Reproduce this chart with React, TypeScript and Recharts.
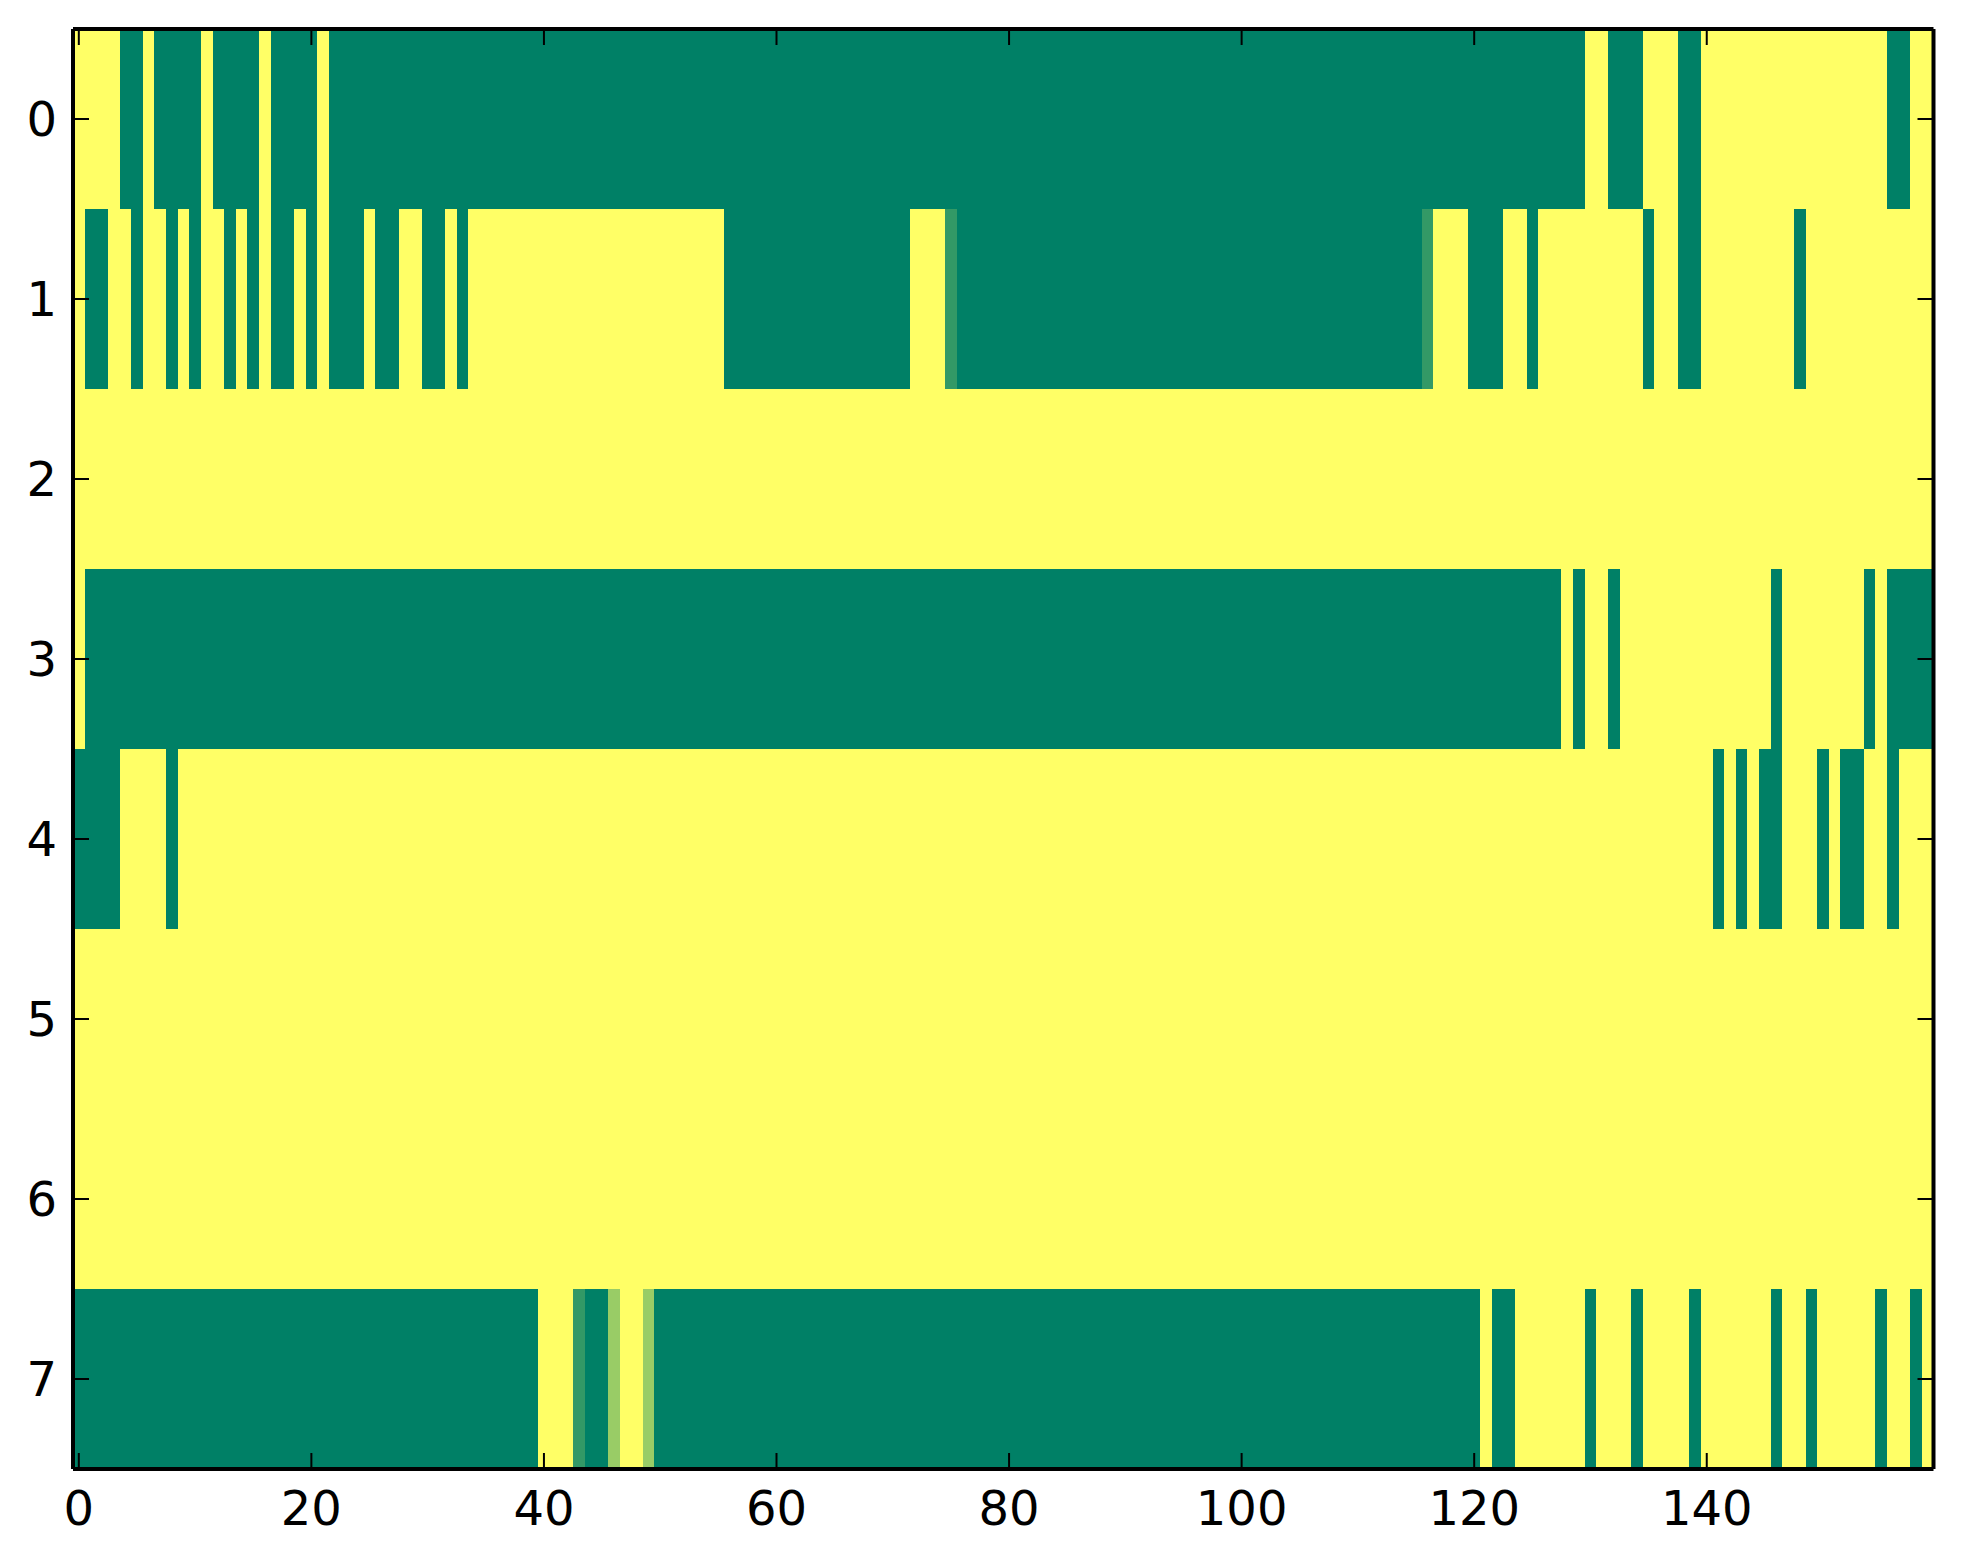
import React from 'react';
import { BarChart, Bar, XAxis, YAxis, Cell } from 'recharts';

// Heatmap values (0 = dark green, 1 = yellow), one array per row, 160 columns each
const ROW_0 = [
  1, 1, 1, 1, 0, 0, 1, 0, 0, 0, 0, 1, 0, 0, 0, 0, 1, 0, 0, 0,
  0, 1, 0, 0, 0, 0, 0, 0, 0, 0, 0, 0, 0, 0, 0, 0, 0, 0, 0, 0,
  0, 0, 0, 0, 0, 0, 0, 0, 0, 0, 0, 0, 0, 0, 0, 0, 0, 0, 0, 0,
  0, 0, 0, 0, 0, 0, 0, 0, 0, 0, 0, 0, 0, 0, 0, 0, 0, 0, 0, 0,
  0, 0, 0, 0, 0, 0, 0, 0, 0, 0, 0, 0, 0, 0, 0, 0, 0, 0, 0, 0,
  0, 0, 0, 0, 0, 0, 0, 0, 0, 0, 0, 0, 0, 0, 0, 0, 0, 0, 0, 0,
  0, 0, 0, 0, 0, 0, 0, 0, 0, 0, 1, 1, 0, 0, 0, 1, 1, 1, 0, 0,
  1, 1, 1, 1, 1, 1, 1, 1, 1, 1, 1, 1, 1, 1, 1, 1, 0, 0, 1, 1,
];
const ROW_1 = [
  1, 0, 0, 1, 1, 0, 1, 1, 0, 1, 0, 1, 1, 0, 1, 0, 1, 0, 0, 1,
  0, 1, 0, 0, 0, 1, 0, 0, 1, 1, 0, 0, 1, 0, 1, 1, 1, 1, 1, 1,
  1, 1, 1, 1, 1, 1, 1, 1, 1, 1, 1, 1, 1, 1, 1, 1, 0, 0, 0, 0,
  0, 0, 0, 0, 0, 0, 0, 0, 0, 0, 0, 0, 1, 1, 1, 0.2, 0, 0, 0, 0,
  0, 0, 0, 0, 0, 0, 0, 0, 0, 0, 0, 0, 0, 0, 0, 0, 0, 0, 0, 0,
  0, 0, 0, 0, 0, 0, 0, 0, 0, 0, 0, 0, 0, 0, 0, 0, 0.2, 1, 1, 1,
  0, 0, 0, 1, 1, 0, 1, 1, 1, 1, 1, 1, 1, 1, 1, 0, 1, 1, 0, 0,
  1, 1, 1, 1, 1, 1, 1, 1, 0, 1, 1, 1, 1, 1, 1, 1, 1, 1, 1, 1,
];
const ROW_2 = [
  1, 1, 1, 1, 1, 1, 1, 1, 1, 1, 1, 1, 1, 1, 1, 1, 1, 1, 1, 1,
  1, 1, 1, 1, 1, 1, 1, 1, 1, 1, 1, 1, 1, 1, 1, 1, 1, 1, 1, 1,
  1, 1, 1, 1, 1, 1, 1, 1, 1, 1, 1, 1, 1, 1, 1, 1, 1, 1, 1, 1,
  1, 1, 1, 1, 1, 1, 1, 1, 1, 1, 1, 1, 1, 1, 1, 1, 1, 1, 1, 1,
  1, 1, 1, 1, 1, 1, 1, 1, 1, 1, 1, 1, 1, 1, 1, 1, 1, 1, 1, 1,
  1, 1, 1, 1, 1, 1, 1, 1, 1, 1, 1, 1, 1, 1, 1, 1, 1, 1, 1, 1,
  1, 1, 1, 1, 1, 1, 1, 1, 1, 1, 1, 1, 1, 1, 1, 1, 1, 1, 1, 1,
  1, 1, 1, 1, 1, 1, 1, 1, 1, 1, 1, 1, 1, 1, 1, 1, 1, 1, 1, 1,
];
const ROW_3 = [
  1, 0, 0, 0, 0, 0, 0, 0, 0, 0, 0, 0, 0, 0, 0, 0, 0, 0, 0, 0,
  0, 0, 0, 0, 0, 0, 0, 0, 0, 0, 0, 0, 0, 0, 0, 0, 0, 0, 0, 0,
  0, 0, 0, 0, 0, 0, 0, 0, 0, 0, 0, 0, 0, 0, 0, 0, 0, 0, 0, 0,
  0, 0, 0, 0, 0, 0, 0, 0, 0, 0, 0, 0, 0, 0, 0, 0, 0, 0, 0, 0,
  0, 0, 0, 0, 0, 0, 0, 0, 0, 0, 0, 0, 0, 0, 0, 0, 0, 0, 0, 0,
  0, 0, 0, 0, 0, 0, 0, 0, 0, 0, 0, 0, 0, 0, 0, 0, 0, 0, 0, 0,
  0, 0, 0, 0, 0, 0, 0, 0, 1, 0, 1, 1, 0, 1, 1, 1, 1, 1, 1, 1,
  1, 1, 1, 1, 1, 1, 0, 1, 1, 1, 1, 1, 1, 1, 0, 1, 0, 0, 0, 0,
];
const ROW_4 = [
  0, 0, 0, 0, 1, 1, 1, 1, 0, 1, 1, 1, 1, 1, 1, 1, 1, 1, 1, 1,
  1, 1, 1, 1, 1, 1, 1, 1, 1, 1, 1, 1, 1, 1, 1, 1, 1, 1, 1, 1,
  1, 1, 1, 1, 1, 1, 1, 1, 1, 1, 1, 1, 1, 1, 1, 1, 1, 1, 1, 1,
  1, 1, 1, 1, 1, 1, 1, 1, 1, 1, 1, 1, 1, 1, 1, 1, 1, 1, 1, 1,
  1, 1, 1, 1, 1, 1, 1, 1, 1, 1, 1, 1, 1, 1, 1, 1, 1, 1, 1, 1,
  1, 1, 1, 1, 1, 1, 1, 1, 1, 1, 1, 1, 1, 1, 1, 1, 1, 1, 1, 1,
  1, 1, 1, 1, 1, 1, 1, 1, 1, 1, 1, 1, 1, 1, 1, 1, 1, 1, 1, 1,
  1, 0, 1, 0, 1, 0, 0, 1, 1, 1, 0, 1, 0, 0, 1, 1, 0, 1, 1, 1,
];
const ROW_5 = [
  1, 1, 1, 1, 1, 1, 1, 1, 1, 1, 1, 1, 1, 1, 1, 1, 1, 1, 1, 1,
  1, 1, 1, 1, 1, 1, 1, 1, 1, 1, 1, 1, 1, 1, 1, 1, 1, 1, 1, 1,
  1, 1, 1, 1, 1, 1, 1, 1, 1, 1, 1, 1, 1, 1, 1, 1, 1, 1, 1, 1,
  1, 1, 1, 1, 1, 1, 1, 1, 1, 1, 1, 1, 1, 1, 1, 1, 1, 1, 1, 1,
  1, 1, 1, 1, 1, 1, 1, 1, 1, 1, 1, 1, 1, 1, 1, 1, 1, 1, 1, 1,
  1, 1, 1, 1, 1, 1, 1, 1, 1, 1, 1, 1, 1, 1, 1, 1, 1, 1, 1, 1,
  1, 1, 1, 1, 1, 1, 1, 1, 1, 1, 1, 1, 1, 1, 1, 1, 1, 1, 1, 1,
  1, 1, 1, 1, 1, 1, 1, 1, 1, 1, 1, 1, 1, 1, 1, 1, 1, 1, 1, 1,
];
const ROW_6 = [
  1, 1, 1, 1, 1, 1, 1, 1, 1, 1, 1, 1, 1, 1, 1, 1, 1, 1, 1, 1,
  1, 1, 1, 1, 1, 1, 1, 1, 1, 1, 1, 1, 1, 1, 1, 1, 1, 1, 1, 1,
  1, 1, 1, 1, 1, 1, 1, 1, 1, 1, 1, 1, 1, 1, 1, 1, 1, 1, 1, 1,
  1, 1, 1, 1, 1, 1, 1, 1, 1, 1, 1, 1, 1, 1, 1, 1, 1, 1, 1, 1,
  1, 1, 1, 1, 1, 1, 1, 1, 1, 1, 1, 1, 1, 1, 1, 1, 1, 1, 1, 1,
  1, 1, 1, 1, 1, 1, 1, 1, 1, 1, 1, 1, 1, 1, 1, 1, 1, 1, 1, 1,
  1, 1, 1, 1, 1, 1, 1, 1, 1, 1, 1, 1, 1, 1, 1, 1, 1, 1, 1, 1,
  1, 1, 1, 1, 1, 1, 1, 1, 1, 1, 1, 1, 1, 1, 1, 1, 1, 1, 1, 1,
];
const ROW_7 = [
  0, 0, 0, 0, 0, 0, 0, 0, 0, 0, 0, 0, 0, 0, 0, 0, 0, 0, 0, 0,
  0, 0, 0, 0, 0, 0, 0, 0, 0, 0, 0, 0, 0, 0, 0, 0, 0, 0, 0, 0,
  1, 1, 1, 0.2, 0, 0, 0.6, 1, 1, 0.6, 0, 0, 0, 0, 0, 0, 0, 0, 0, 0,
  0, 0, 0, 0, 0, 0, 0, 0, 0, 0, 0, 0, 0, 0, 0, 0, 0, 0, 0, 0,
  0, 0, 0, 0, 0, 0, 0, 0, 0, 0, 0, 0, 0, 0, 0, 0, 0, 0, 0, 0,
  0, 0, 0, 0, 0, 0, 0, 0, 0, 0, 0, 0, 0, 0, 0, 0, 0, 0, 0, 0,
  0, 1, 0, 0, 1, 1, 1, 1, 1, 1, 0, 1, 1, 1, 0, 1, 1, 1, 1, 0,
  1, 1, 1, 1, 1, 1, 0, 1, 1, 0, 1, 1, 1, 1, 1, 0, 1, 1, 0, 1,
];

const ROWS = [ROW_0, ROW_1, ROW_2, ROW_3, ROW_4, ROW_5, ROW_6, ROW_7];
const X_TICKS = [0, 20, 40, 60, 80, 100, 120, 140];
const Y_TICKS = [0, 1, 2, 3, 4, 5, 6, 7];
const Y_DOMAIN: [number, number] = [-0.5, 7.5];
const ROW_START = -0.5; // lower edge of the first row
const ROW_SPAN = 1; // each row spans one unit on the y axis

// matplotlib "summer" colormap
const summer = (v: number) =>
  `rgb(${Math.round(v * 255)}, ${Math.round((0.5 + v / 2) * 255)}, 102)`;

const data = ROW_0.map((_, col) => {
  const entry: Record<string, number> = { col, pad: ROW_START };
  ROWS.forEach((_, r) => {
    entry[`r${r}`] = ROW_SPAN;
  });
  return entry;
});

const W = 1940;
const H = 1540;
const MARGIN = { top: 20, right: 13.5, bottom: 19, left: 14 };
const FONT = { fill: '#000', fontSize: 48, fontFamily: 'DejaVu Sans' };
const AXIS_LINE = { stroke: '#000', strokeWidth: 4 };
const TICK_LINE = { stroke: '#000', strokeWidth: 2 };
const blank = () => '';

// axes; `visible` false keeps the same layout but draws nothing
function axes(visible: boolean) {
  const line = visible ? AXIS_LINE : false;
  const tl = visible ? TICK_LINE : false;
  return [
    <XAxis
      key="xb"
      xAxisId="b"
      dataKey="col"
      type="category"
      orientation="bottom"
      height={60}
      ticks={X_TICKS}
      interval={0}
      axisLine={line}
      tickLine={tl}
      tickSize={-16}
      tickMargin={38}
      tick={visible ? FONT : false}
    />,
    <XAxis
      key="xt"
      xAxisId="t"
      dataKey="col"
      type="category"
      orientation="top"
      height={1}
      ticks={X_TICKS}
      interval={0}
      axisLine={line}
      tickLine={tl}
      tickSize={-16}
      tickFormatter={blank}
      tick={visible ? FONT : false}
    />,
    <YAxis
      key="yl"
      yAxisId="l"
      type="number"
      orientation="left"
      width={51}
      domain={Y_DOMAIN}
      allowDataOverflow
      reversed
      ticks={Y_TICKS}
      interval={0}
      axisLine={line}
      tickLine={tl}
      tickSize={-16}
      tickMargin={32}
      tick={visible ? FONT : false}
    />,
    <YAxis
      key="yr"
      yAxisId="r"
      type="number"
      orientation="right"
      width={1}
      domain={Y_DOMAIN}
      allowDataOverflow
      reversed
      ticks={Y_TICKS}
      interval={0}
      axisLine={line}
      tickLine={tl}
      tickSize={-16}
      tickFormatter={blank}
      tick={visible ? FONT : false}
    />,
  ];
}

export default function App() {
  return (
    <div style={{ position: 'relative', width: W, height: H, background: '#fff' }}>
      <div style={{ position: 'absolute', left: 0, top: 0 }}>
        <BarChart
          width={W}
          height={H}
          data={data}
          margin={MARGIN}
          barCategoryGap={0}
          barGap={0}
        >
          {axes(false)}
          <Bar
            xAxisId="b"
            yAxisId="l"
            dataKey="pad"
            stackId="s"
            fill="none"
            isAnimationActive={false}
          />
          {ROWS.map((row, r) => (
            <Bar
              key={`r${r}`}
              xAxisId="b"
              yAxisId="l"
              dataKey={`r${r}`}
              stackId="s"
              isAnimationActive={false}
            >
              {row.map((v, k) => (
                <Cell key={k} fill={summer(v)} shapeRendering="crispEdges" />
              ))}
            </Bar>
          ))}
        </BarChart>
      </div>
      <div style={{ position: 'absolute', left: 0, top: 0, pointerEvents: 'none' }}>
        <BarChart width={W} height={H} data={data} margin={MARGIN}>
          {axes(true)}
        </BarChart>
      </div>
    </div>
  );
}
